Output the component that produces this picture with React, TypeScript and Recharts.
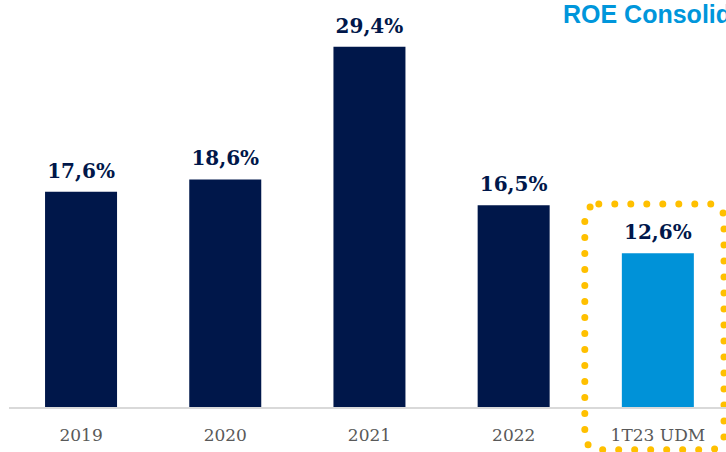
import { Bar, BarChart, Cell, LabelList, ReferenceArea, XAxis, YAxis } from 'recharts';

const categories = ['2019', '2020', '2021', '2022', '1T23 UDM'];
const roeValues = [17.6, 18.6, 29.4, 16.5, 12.6];
const barColors = ['#00174A', '#00174A', '#00174A', '#00174A', '#0092D8'];

const data = categories.map((name, i) => ({ name, roe: roeValues[i], color: barColors[i] }));

const fmt = (v: number) => `${v.toFixed(1).replace('.', ',')}%`;

const DottedBox = (props: any) => {
  const { x, y, width, height } = props;
  return (
    <rect
      x={x - 1}
      y={y}
      width={width - 5}
      height={height}
      rx={14}
      ry={14}
      fill="none"
      stroke="#FFC000"
      strokeWidth={7}
      strokeLinecap="round"
      strokeDasharray="0 16"
    />
  );
};

export default function App() {
  return (
    <div style={{ position: 'absolute', left: 0, top: 0, width: 726, height: 452, overflow: 'hidden', background: '#fff' }}>
      <div
        style={{
          position: 'absolute',
          left: 563,
          top: 0,
          fontFamily: '"Liberation Sans", Arial, sans-serif',
          fontWeight: 'bold',
          fontSize: 25,
          color: '#0096DB',
          whiteSpace: 'nowrap',
        }}
      >
        ROE Consolidado
      </div>
      <BarChart
        width={730}
        height={452}
        data={data}
        margin={{ top: 0, right: 0, bottom: 0, left: 9 }}
        barCategoryGap="25%"
      >
        <YAxis hide domain={[0, 33.2]} />
        <XAxis
          dataKey="name"
          height={44}
          tickLine={false}
          axisLine={{ stroke: '#D9D9D9', strokeWidth: 2 }}
          tick={{ fill: '#595959', fontSize: 17, fontFamily: '"DejaVu Serif", Georgia, serif' }}
          tickMargin={15}
          interval={0}
        />
        <ReferenceArea
          x1="1T23 UDM"
          x2="1T23 UDM"
          y1={-3.4}
          y2={16.6}
          ifOverflow="visible"
          shape={DottedBox}
        />
        <Bar dataKey="roe" isAnimationActive={false}>
          {data.map((d) => (
            <Cell key={d.name} fill={d.color} />
          ))}
          <LabelList
            dataKey="roe"
            position="top"
            offset={14}
            formatter={(v: any) => fmt(Number(v))}
            style={{ fill: '#00174A', fontSize: 20, fontWeight: 'bold', fontFamily: '"DejaVu Serif", Georgia, serif' }}
          />
        </Bar>
      </BarChart>
    </div>
  );
}
